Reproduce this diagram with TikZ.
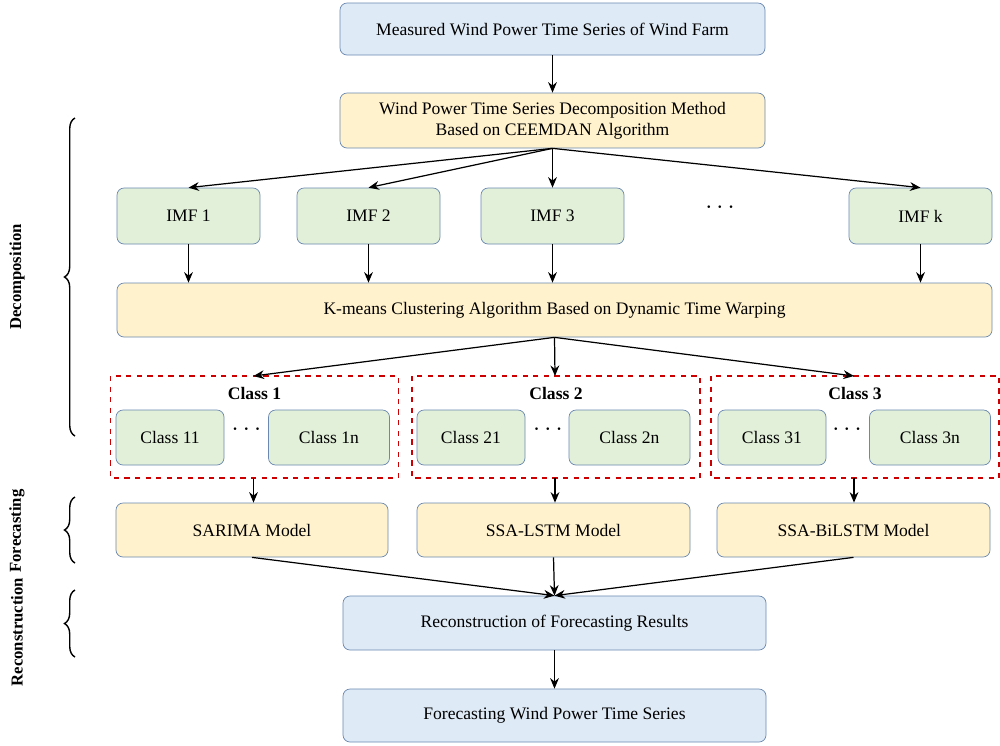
\documentclass[tikz,border=0pt]{standalone}
\usepackage{fontspec}
\setmainfont{Liberation Serif}
\usetikzlibrary{positioning,decorations.pathreplacing,arrows.meta}
\definecolor{boxblue}{HTML}{DEEAF6}
\definecolor{boxyellow}{HTML}{FFF2CC}
\definecolor{boxgreen}{HTML}{E2F0D9}
\definecolor{edge}{HTML}{6A88B0}
\tikzset{
  box/.style={draw=edge,rounded corners=4pt,font=\fontsize{10}{12}\selectfont,align=center,inner sep=0pt},
  blue box/.style={box,fill=boxblue},
  yellow box/.style={box,fill=boxyellow},
  green box/.style={box,fill=boxgreen},
  group/.style={draw=red!80!black,dashed,thick},
  arr/.style={-{Stealth[length=6pt,width=5pt]},line width=0.7pt},
  brace/.style={decorate,decoration={brace,amplitude=6pt},thick},
  side/.style={rotate=90,font=\bfseries\fontsize{9.5}{11}\selectfont}
}
\newcommand{\bx}[6]{\node[#1,minimum width=#4*0.02cm,minimum height=#5*0.02cm] (#2) at (#3) {#6};}
\begin{document}
\begin{tikzpicture}[x=0.02cm,y=-0.02cm]
\useasboundingbox (0,0) rectangle (1000,745);
% main column
\bx{blue box}{top}{552.5,29}{425}{52}{Measured Wind Power Time Series of Wind Farm}
\bx{yellow box}{ceem}{552.5,120.5}{425}{55}{Wind Power Time Series Decomposition Method\\Based on CEEMDAN Algorithm}
\bx{green box}{imf1}{188.5,216}{143}{56}{IMF 1}
\bx{green box}{imf2}{368.5,216}{143}{56}{IMF 2}
\bx{green box}{imf3}{552.5,216}{143}{56}{IMF 3}
\bx{green box}{imfk}{920.5,216}{143}{56}{IMF k}
\node[font=\Large\bfseries] (dots) at (720,208) {$\cdots$};
\bx{yellow box}{kmeans}{554.5,310}{875}{54}{K-means Clustering Algorithm Based on Dynamic Time Warping}
% classes
\foreach \n/\xa/\xb/\xc in {1/170/329/254.5,2/471/629.5/556,3/772/930/855}{
  \draw[group] (\xc-144,376) rectangle (\xc+144,478);
  \node[font=\bfseries\fontsize{10}{12}\selectfont] (g\n) at (\xc,393) {Class \n};
  \bx{green box}{c\n a}{\xa,437.5}{108}{55}{Class \n1}
  \bx{green box}{c\n b}{\xb,437.5}{121}{55}{Class \n n}
  \node[font=\Large\bfseries] at (\xc-8,430) {$\cdots$};
  \coordinate (gt\n) at (\xc-1,376);
  \coordinate (gb\n) at (\xc-1,478);
}
\bx{yellow box}{sarima}{252,530}{272}{54}{SARIMA Model}
\bx{yellow box}{lstm}{553.5,530}{273}{54}{SSA-LSTM Model}
\bx{yellow box}{bilstm}{853.5,530}{273}{54}{SSA-BiLSTM Model}
\bx{blue box}{recon}{554.5,623}{423}{54}{Reconstruction of Forecasting Results}
\bx{blue box}{final}{554.5,715.5}{423}{53}{Forecasting Wind Power Time Series}
% arrows
\draw[arr] (top) -- (ceem);
\foreach \t in {imf1,imf2,imf3,imfk}{ \draw[arr] (ceem.south) -- (\t.north); }
\foreach \t in {imf1,imf2,imf3,imfk}{ \draw[arr] (\t.south) -- (\t.south |- kmeans.north); }
\foreach \n in {1,2,3}{ \draw[arr] (kmeans.south) -- (gt\n); }
\draw[arr] (gb1) -- (sarima.north -| gb1);
\draw[arr] (gb2) -- (lstm.north -| gb2);
\draw[arr] (gb3) -- (bilstm.north -| gb3);
\foreach \t in {sarima,lstm,bilstm}{ \draw[arr] (\t.south) -- (recon.north); }
\draw[arr] (recon) -- (final);
% side labels
\draw[brace] (75,436) -- (75,118);
\node[side] (dec) at (17,277) {Decomposition};
\draw[brace] (75,563) -- (75,497);
\node[side] (fc) at (17,531) {Forecasting};
\draw[brace] (75,657) -- (75,590);
\node[side] (rc) at (17,632) {Reconstruction};
\end{tikzpicture}
\end{document}
